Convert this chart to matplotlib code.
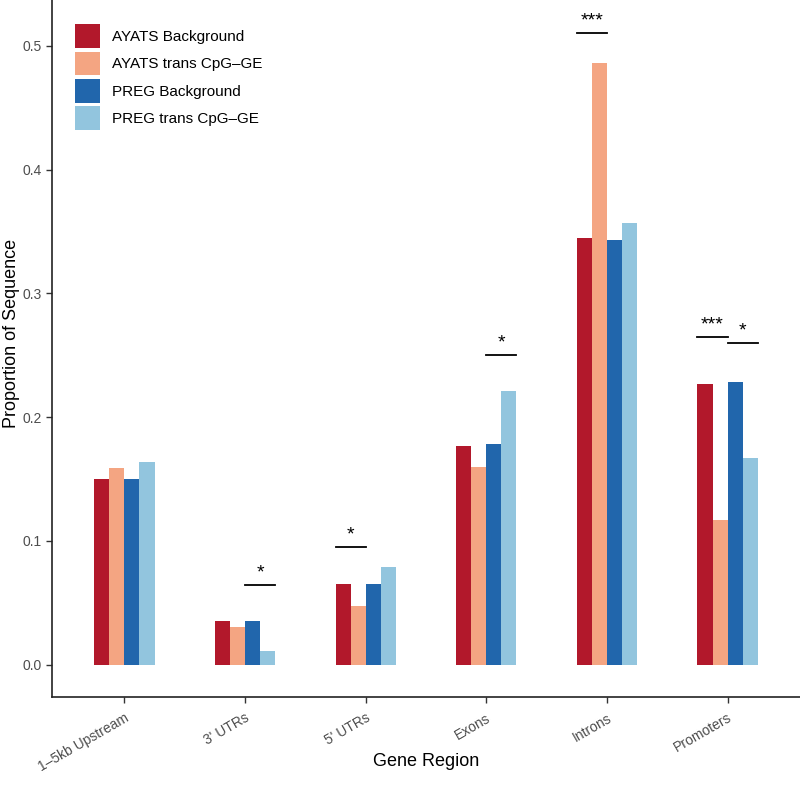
import matplotlib
matplotlib.use("Agg")
import matplotlib.pyplot as plt
import numpy as np

plt.rcParams['font.family'] = ['Liberation Sans', 'DejaVu Sans']

regions = ["1\u20135kb Upstream", "3' UTRs", "5' UTRs", "Exons", "Introns", "Promoters"]
series = ["AYATS Background", "AYATS trans CpG\u2013GE", "PREG Background", "PREG trans CpG\u2013GE"]
colors = ["#B2182B", "#F4A582", "#2166AC", "#92C5DE"]

ayats_bg = [0.150, 0.0355, 0.065, 0.177, 0.345, 0.227]
ayats_trans = [0.159, 0.030, 0.047, 0.160, 0.486, 0.117]
preg_bg = [0.150, 0.0355, 0.065, 0.178, 0.343, 0.228]
preg_trans = [0.164, 0.011, 0.079, 0.221, 0.357, 0.167]

# significance brackets: (region index, pair: 0=AYATS 1=PREG, line height, label)
sig_region = [1, 2, 3, 4, 5, 5]
sig_pair = [1, 0, 1, 0, 0, 1]
sig_y = [0.0645, 0.095, 0.250, 0.510, 0.2645, 0.260]
sig_label = ["*", "*", "*", "***", "***", "*"]

fig = plt.figure(figsize=(8, 8), dpi=100)
ax = fig.add_axes([0.065, 0.129, 0.935, 0.871])

x = np.arange(1, len(regions) + 1)
w = 0.125
values = [ayats_bg, ayats_trans, preg_bg, preg_trans]
for i, (vals, c, lab) in enumerate(zip(values, colors, series)):
    ax.bar(x + (i - 1.5) * w, vals, width=w, color=c, label=lab, linewidth=0)

for r, p, y, lab in zip(sig_region, sig_pair, sig_y, sig_label):
    xc = x[r] + (p * 2 - 1) * w
    ax.plot([xc - w, xc + w], [y, y], color="black", lw=1.3)
    ax.text(xc, y + 0.003, lab, ha="center", va="bottom", fontsize=14)

ax.set_xlim(0.4, 6.6)
ax.set_ylim(-0.026, 0.537)
ax.set_xticks(x)
ax.set_xticklabels(regions, rotation=30, ha="right", rotation_mode="anchor",
                   fontsize=10, color="#4D4D4D")
ax.set_yticks([0.0, 0.1, 0.2, 0.3, 0.4, 0.5])
ax.set_yticklabels(["0.0", "0.1", "0.2", "0.3", "0.4", "0.5"], fontsize=10, color="#4D4D4D")
ax.tick_params(axis="both", length=4, width=1, color="#333333")
ax.tick_params(axis="x", pad=6)
for s in ["top", "right"]:
    ax.spines[s].set_visible(False)
for s in ["left", "bottom"]:
    ax.spines[s].set_linewidth(1.2)
    ax.spines[s].set_color("#222222")

ax.set_xlabel("Gene Region", fontsize=13)
ax.set_ylabel("Proportion of Sequence", fontsize=13)
ax.xaxis.set_label_coords(0.5, -0.093)
ax.yaxis.set_label_coords(-0.054, 0.522)
ax.xaxis.label.set_va("center")
ax.yaxis.label.set_va("center")

ax.legend(loc="upper left", bbox_to_anchor=(0.013, 0.985), frameon=False, fontsize=11,
          handlelength=1.6, handleheight=2.0, handletextpad=0.8, labelspacing=0.25)

fig.savefig("out.png", dpi=100)
